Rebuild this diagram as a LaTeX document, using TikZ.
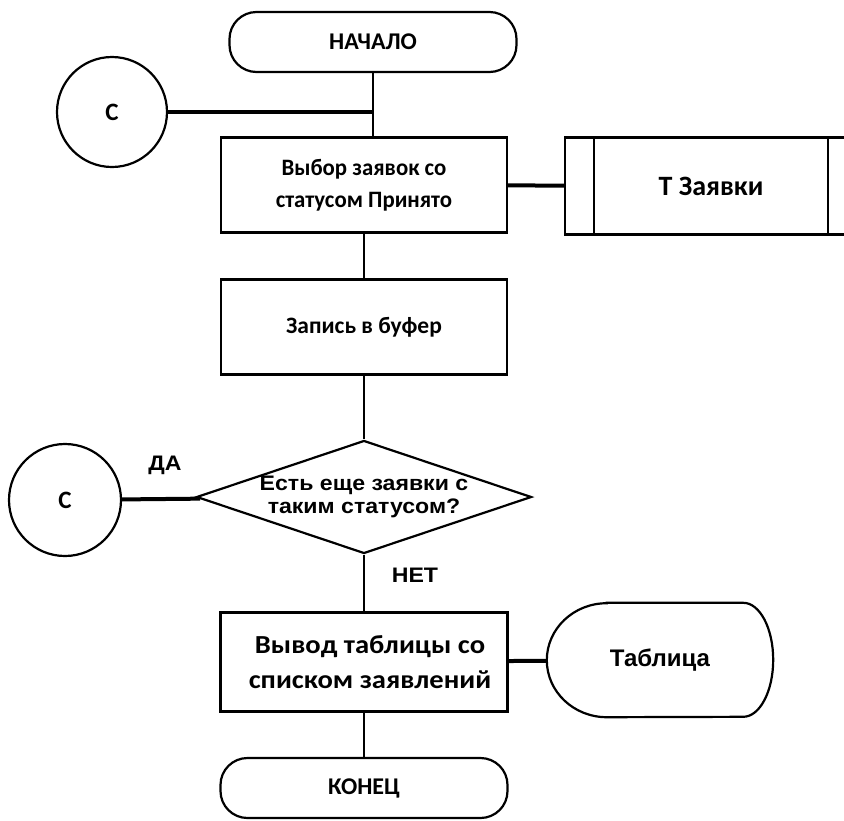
\documentclass[tikz,border=0pt]{standalone}
\usepackage{fontspec}
\setmainfont{Carlito}
\newfontfamily\arialf{Liberation Sans}
\newfontfamily\arialw[FakeStretch=1.1]{Liberation Sans}
\newfontfamily\condf[FakeStretch=0.97]{Carlito}
\newfontfamily\widef[FakeStretch=1.1]{Carlito}
\usetikzlibrary{shapes.geometric}
\tikzset{
	outl/.style={line width=2.2pt},
	blockA/.style={
		draw, outl, rectangle, minimum width=286pt, minimum height=95pt,
		align=center, inner sep=2pt,
		font={\fontsize{23.5}{32}\selectfont\bfseries}
	},
	termA/.style={
		draw, outl, rectangle, rounded corners=27pt, minimum width=287pt,
		minimum height=60pt, font={\fontsize{24}{26}\selectfont\bfseries}
	},
	connC/.style={
		draw, outl, circle, minimum size=110pt, inner sep=0pt,
		font={\fontsize{25}{28}\selectfont\bfseries}
	},
	decA/.style={
		draw, outl, diamond, minimum width=335pt, minimum height=113pt, inner sep=0pt
	},
	vline/.style={line width=2.4pt},
	hline/.style={line width=4pt},
	ansA/.style={font={\arialw\fontsize{21}{22}\selectfont\bfseries}},
}

\begin{document}
\begin{tikzpicture}[x=1pt, y=-1pt]
\useasboundingbox (0,0) rectangle (844,820);
\clip (0,0) rectangle (844,820);
\node[termA] (start) at (373,42) {НАЧАЛО};
\node[connC] (c1) at (112,112) {С};
\node[blockA, font={\condf\fontsize{23.5}{32}\selectfont\bfseries}] (sel) at (364,185) {Выбор заявок со\\статусом Принято};
\node[blockA, minimum width=292pt, minimum height=97pt, font={\fontsize{28}{32}\selectfont\bfseries}] (tz) at (711,186) {Т Заявки};
\draw[line width=1.4pt] ([xshift=30pt]tz.north west) -- ([xshift=30pt]tz.south west);
\draw[line width=1.4pt] ([xshift=-30pt]tz.north east) -- ([xshift=-30pt]tz.south east);
\node[blockA] (buf) at (364,327) {Запись в буфер};
\node[decA, label={[font={\arialw\fontsize{21}{23}\selectfont\bfseries}, align=center]center:Есть еще заявки с\\таким статусом?}] (dec) at (364,497) {};
\node[connC, minimum size=112pt] (c2) at (65,500) {С};
\node[ansA] (yes) at (165,465) {ДА};
\node[ansA] (no) at (415,575) {НЕТ};
\node[blockA, font={\widef\fontsize{26}{35}\selectfont\bfseries}, minimum width=287pt, minimum height=99pt] (out) at (364,662) {\hspace{12pt}Вывод таблицы со\\\hspace{12pt}списком заявлений};
\node[minimum width=226pt, minimum height=114pt, font={\arialf\fontsize{24}{28}\selectfont\bfseries}] (tabl) at (660,660) {Таблица};
\draw[outl] ([xshift=60pt]tabl.north west) -- ([xshift=-30pt]tabl.north east)
	arc[start angle=90, end angle=-90, x radius=30pt, y radius=57pt]
	-- ([xshift=60pt]tabl.south west)
	arc[start angle=270, end angle=90, x radius=60pt, y radius=57pt] -- cycle;
\node[termA] (end) at (364,788) {КОНЕЦ};
\draw[vline] (start) -- (start |- sel.north);
\draw[hline] (c1) -- (c1 -| start);
\draw[hline] (sel) -- (tz);
\draw[vline] (sel) -- (buf);
\draw[vline] (buf) -- (dec);
\draw[hline] (dec) -- (c2);
\draw[vline] (dec) -- (out);
\draw[hline] (out) -- (tabl);
\draw[vline] (out) -- (end);
\end{tikzpicture}
\end{document}
